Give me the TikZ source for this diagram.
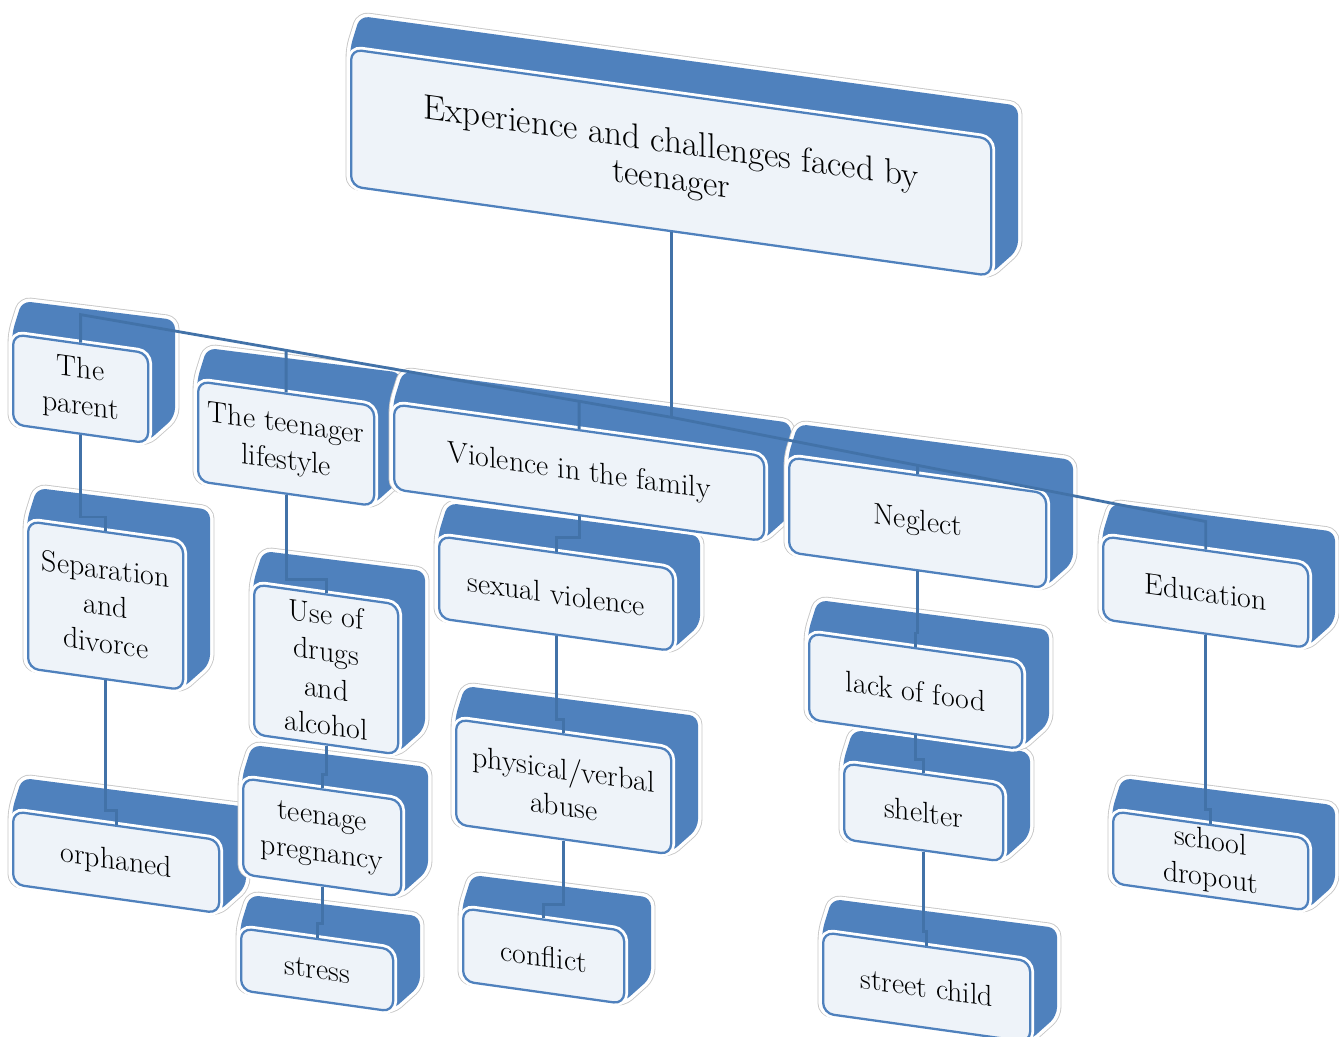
\documentclass[tikz,border=0pt]{standalone}
\usepackage{amsmath}
\usepackage{tikz}
\usetikzlibrary{positioning, calc, arrows.meta}

\definecolor{boxblue}{HTML}{4F81BD}
\definecolor{facefill}{HTML}{EEF3F9}
\definecolor{linkblue}{HTML}{4272A8}

\tikzset{
  face/.style={draw=boxblue, line width=1.3pt, fill=facefill, rounded corners=6pt,
    preaction={draw=white, line width=4.5pt},
    yslant=-0.14, anchor=north west, align=center, inner sep=2pt,
    font=\fontsize{17}{21}\selectfont},
  depth/.style={fill=boxblue, rounded corners=5pt,
    preaction={draw=black!22, line width=5pt},
    preaction={draw=white, line width=4pt}},
  link/.style={draw=linkblue, line width=1.6pt}
}

% #1 name, #2 #3 top left of the front face, #4 width, #5 height, #6 text
\newcommand{\slab}[6]{%
  \path[depth] (#2,#3+#5) -- (#2,#3) -- ++(10,-32)
    -- (#2+#4+28,#3+0.14*#4-32) -- (#2+#4+28,#3+#5+0.14*#4-25)
    -- (#2+#4,#3+#5+0.14*#4) -- cycle;
  \node[face, minimum width={#4*0.02cm}, minimum height={#5*0.02cm}] (#1) at (#2,#3) {#6};
}

\begin{document}
\begin{tikzpicture}[x=0.02cm, y=-0.02cm]
    \useasboundingbox (0,0) rectangle (1339,1036);

    % lowest row first
    \slab{Str}{240}{927}{152}{62}{stress}
    \slab{Con}{462}{907}{161}{73}{conflict}
    \slab{Street}{822}{931}{207}{81}{street child}

    \slab{Orph}{12}{810}{206}{73}{orphaned}
    \slab{Preg}{242}{777}{158}{96}{teenage\\pregnancy}
    \slab{Phys}{455}{718}{215}{105}{physical/verbal\\abuse}
    \slab{Shel}{843}{762}{159}{76}{shelter}

    \slab{Sep}{27}{520}{155}{147}{Separation\\and\\divorce}
    \slab{Drug}{253}{583}{144}{150}{Use of\\drugs\\and\\alcohol}
    \slab{Sex}{438}{535}{234}{82}{sexual violence}
    \slab{Food}{808}{632}{213}{86}{lack of food}
    \slab{Drop}{1112}{810}{195}{72}{school\\dropout}

    \slab{Par}{12}{333}{135}{90}{The\\parent}
    \slab{Life}{197}{380}{176}{100}{The teenager\\lifestyle}
    \slab{Vio}{393}{403}{370}{85}{Violence in the family}
    \slab{Neg}{788}{456}{257}{95}{Neglect}
    \slab{Edu}{1102}{535}{205}{83}{Education}

    \slab{T}{350}{48}{640}{137}{\fontsize{20}{24}\selectfont Experience and challenges faced by\\\fontsize{20}{24}\selectfont teenager}

    % bus to the first row
    \coordinate (busL) at ($(Par.north)+(0,-28)$);
    \coordinate (busR) at ($(Edu.north)+(0,-28)$);
    \coordinate (busM) at ($(T.south)+(0,185)$);
    \draw[link] (T.south) -- (busM);
    \draw[link] (Par.north) -- (busL) -- (busM) -- (busR) -- (Edu.north);
    \draw[link] (Life.north) -- (intersection of Life.north--Life.south and busL--busM);
    \draw[link] (Vio.north) -- (intersection of Vio.north--Vio.south and busL--busM);
    \draw[link] (Neg.north) -- (intersection of Neg.north--Neg.south and busM--busR);

    % the columns
    \foreach \a/\b in {Par/Sep, Sep/Orph, Life/Drug, Drug/Preg, Preg/Str,
                       Vio/Sex, Sex/Phys, Phys/Con, Neg/Food, Food/Shel,
                       Shel/Street, Edu/Drop}
      \draw[link] (\a.south) |- ($(\b.north)+(0,-14)$) -- (\b.north);
\end{tikzpicture}
\end{document}
